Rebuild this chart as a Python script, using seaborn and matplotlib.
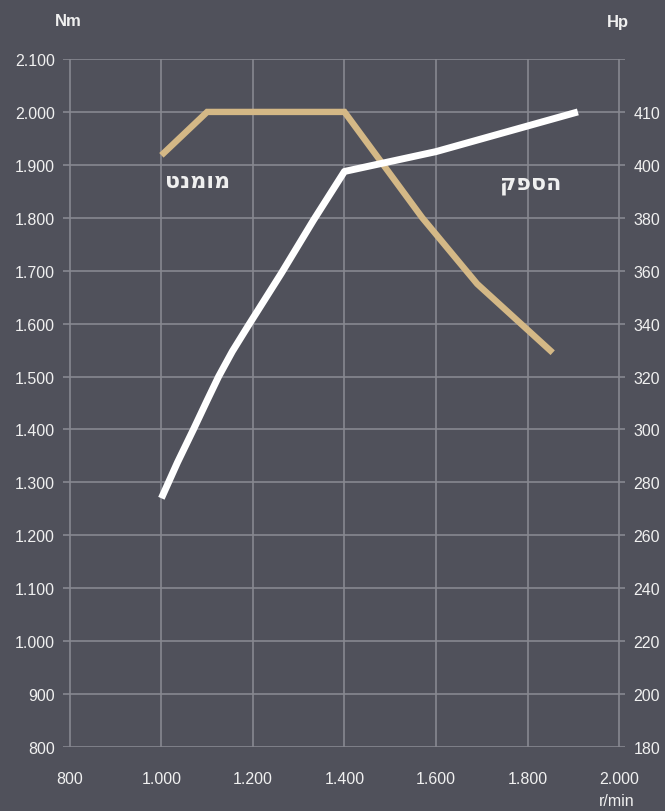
import matplotlib
matplotlib.use('Agg')
import matplotlib.pyplot as plt
import seaborn as sns
import pandas as pd
from matplotlib.ticker import FuncFormatter

# torque curve (Nm)
torque_rpm = [1000, 1100, 1400, 1570, 1690, 1855]
torque_nm = [1918, 2000, 2000, 1800, 1675, 1545]

# power curve (Hp, on the right axis)
power_rpm = [1000, 1035, 1070, 1100, 1125, 1155, 1189, 1262, 1332, 1400, 1600, 1910]
power_hp = [274, 287.5, 300, 311, 320, 329.5, 339, 359, 379, 397.5, 405, 420]

nm_ticks = list(range(800, 2101, 100))
hp_ticks = [180, 200, 220, 240, 260, 280, 300, 320, 340, 360, 380, 400, 420]
hp_labels = ['180', '200', '220', '240', '260', '280', '300', '320', '340', '360', '380', '400', '410']
rpm_ticks = list(range(800, 2001, 200))

torque_label = 'מומנט'
power_label = 'הספק'

bg = '#50515b'
grid = '#878890'
tan = '#d4b886'
txt = '#f0f0f0'

sns.set_theme(style='dark')
plt.rcParams['font.family'] = ['Liberation Sans', 'DejaVu Sans']

fig = plt.figure(figsize=(6.65, 8.12), dpi=100, facecolor=bg)
ax = fig.add_axes([63/665, 1 - 748/812, 562/665, 688/812])
ax.set_facecolor(bg)

df_t = pd.DataFrame({'rpm': torque_rpm, 'val': torque_nm})
sns.lineplot(data=df_t, x='rpm', y='val', ax=ax, color=tan, linewidth=4.6,
             solid_capstyle='butt', solid_joinstyle='miter', zorder=3)

ax.set_xlim(785, 2013)
ax.set_ylim(800, 2100)
ax.set_xticks(rpm_ticks)
ax.set_yticks(nm_ticks)
fmt = FuncFormatter(lambda v, p: f'{int(v):,}'.replace(',', '.'))
ax.xaxis.set_major_formatter(fmt)
ax.yaxis.set_major_formatter(fmt)
ax.grid(True, color=grid, linewidth=1.2)
for s in ax.spines.values():
    s.set_visible(False)
ax.tick_params(axis='y', length=0, pad=6, labelsize=11.5, colors=txt)
ax.tick_params(axis='x', length=0, pad=17, labelsize=11.5, colors=txt)
ax.set_xlabel('')
ax.set_ylabel('')

ax2 = ax.twinx()
ax2.set_ylim(180, 440)
df_p = pd.DataFrame({'rpm': power_rpm, 'val': power_hp})
sns.lineplot(data=df_p, x='rpm', y='val', ax=ax2, color='white', linewidth=5,
             solid_capstyle='butt', solid_joinstyle='round', zorder=4)
ax2.set_yticks(hp_ticks)
ax2.set_yticklabels(hp_labels)
ax2.tick_params(axis='y', length=0, pad=6, labelsize=11.5, colors=txt)
ax2.grid(False)
ax2.set_ylabel('')
for s in ax2.spines.values():
    s.set_visible(False)

fig.text(68/665, 1 - 22/812, 'Nm', color=txt, fontsize=12, fontweight='bold', ha='center', va='center')
fig.text(618/665, 1 - 22/812, 'Hp', color=txt, fontsize=12, fontweight='bold', ha='center', va='center')
fig.text(617/665, 1 - 802/812, 'r/min', color=txt, fontsize=11.5, ha='center', va='center')

ax.text(1078, 1870, torque_label[::-1], color=txt, fontsize=16, fontweight='bold',
        ha='center', va='center', family=['DejaVu Sans'])
ax.text(1807, 1864, power_label[::-1], color=txt, fontsize=16, fontweight='bold',
        ha='center', va='center', family=['DejaVu Sans'])

fig.savefig('out.png', dpi=100, facecolor=bg)
